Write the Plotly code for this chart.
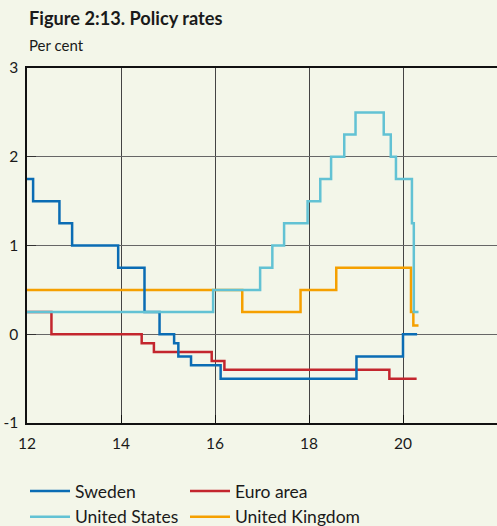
import plotly.graph_objects as go

# Data (x = year 2000+, step changes)
sw_x = [12.0, 12.13, 12.69, 12.96, 13.94, 14.50, 14.82, 15.13, 15.22, 15.49, 16.12, 19.01, 20.00, 20.30]
sw_y = [1.75, 1.5, 1.25, 1.0, 0.75, 0.25, 0.0, -0.1, -0.25, -0.35, -0.5, -0.25, 0.0, 0.0]

ea_x = [12.0, 12.52, 14.44, 14.70, 15.93, 16.20, 19.71, 20.29]
ea_y = [0.25, 0.0, -0.1, -0.2, -0.3, -0.4, -0.5, -0.5]

us_x = [12.0, 15.96, 16.96, 17.22, 17.47, 17.97, 18.24, 18.47, 18.75, 18.99, 19.59, 19.74, 19.85, 20.19, 20.23, 20.33]
us_y = [0.25, 0.5, 0.75, 1.0, 1.25, 1.5, 1.75, 2.0, 2.25, 2.5, 2.25, 2.0, 1.75, 1.25, 0.25, 0.25]

uk_x = [12.0, 16.58, 17.82, 18.58, 20.17, 20.22, 20.33]
uk_y = [0.5, 0.25, 0.5, 0.75, 0.25, 0.1, 0.1]

x_ticks = [12, 14, 16, 18, 20]
x_ticklabels = ["12", "14", "16", "18", "20"]
y_ticks = [-1, 0, 1, 2, 3]
y_ticklabels = ["-1", "0", "1", "2", "3"]

BG = "#F3F6E9"
FONT = "Lato"

fig = go.Figure()

series = [
    ("United Kingdom", uk_x, uk_y, "#F5A000", "legend2", 4),
    ("Euro area", ea_x, ea_y, "#C3262E", "legend2", 2),
    ("Sweden", sw_x, sw_y, "#0A6CB4", "legend", 1),
    ("United States", us_x, us_y, "#62C2D4", "legend", 3),
]
for name, xs, ys, col, lg, rank in series:
    fig.add_trace(go.Scatter(
        x=xs, y=ys, mode="lines", name=name, line=dict(color=col, width=2.5, shape="hv"),
        legend=lg, legendrank=rank, hoverinfo="skip"))

W, H = 497, 526
ML, MR, MT, MB = 27, 0, 68, 103
plot_h = H - MT - MB
plot_w = W - ML - MR

def py(pix):
    return (H - MB - pix) / plot_h

def px(pix):
    return (pix - ML) / plot_w

fig.update_layout(
    template="none",
    width=W, height=H,
    paper_bgcolor=BG, plot_bgcolor=BG,
    margin=dict(l=ML, r=MR, t=MT, b=MB, autoexpand=False),
    font=dict(family=FONT, size=15, color="#1a1a1a"),
    showlegend=True,
    legend=dict(x=px(25), xanchor="left", y=py(473), yanchor="top", orientation="v",
                font=dict(size=17.5), bgcolor="rgba(0,0,0,0)", tracegroupgap=0, itemwidth=40),
    legend2=dict(x=px(185), xanchor="left", y=py(473), yanchor="top", orientation="v",
                 font=dict(size=17.5), bgcolor="rgba(0,0,0,0)", tracegroupgap=0, itemwidth=40),
)
fig.add_annotation(text="<b>Figure 2:13. Policy rates</b>", x=0, xref="paper", xanchor="left",
                   y=py(18), yref="paper", yanchor="middle", showarrow=False,
                   font=dict(size=18.2, family=FONT, color="#1a1a1a"))
fig.add_annotation(text="Per cent", x=0, xref="paper", xanchor="left",
                   y=py(45), yref="paper", yanchor="middle", showarrow=False,
                   font=dict(size=15, family=FONT, color="#1a1a1a"))

fig.update_xaxes(range=[12, 22], tickvals=x_ticks, ticktext=x_ticklabels, automargin=False,
                 showgrid=True, gridcolor="#444", gridwidth=1,
                 showline=True, linecolor="#111", linewidth=1.5, mirror=True,
                 ticks="inside", ticklen=8, tickcolor="#111", zeroline=False,
                 ticklabelstandoff=6, tickfont=dict(size=15.5))
fig.update_yaxes(range=[-1, 3], tickvals=y_ticks, ticktext=y_ticklabels, automargin=False,
                 showgrid=True, gridcolor="#666", gridwidth=1,
                 showline=True, linecolor="#111", linewidth=1.5, mirror=True,
                 ticks="inside", ticklen=9, tickcolor="#333", zeroline=False,
                 ticklabelstandoff=4, tickfont=dict(size=15.5))

fig.write_html(
    "out.html",
    config={"displayModeBar": False},
    post_script="document.body.style.margin='0';document.body.style.overflow='hidden';"
                f"document.body.style.background='{BG}';",
)
